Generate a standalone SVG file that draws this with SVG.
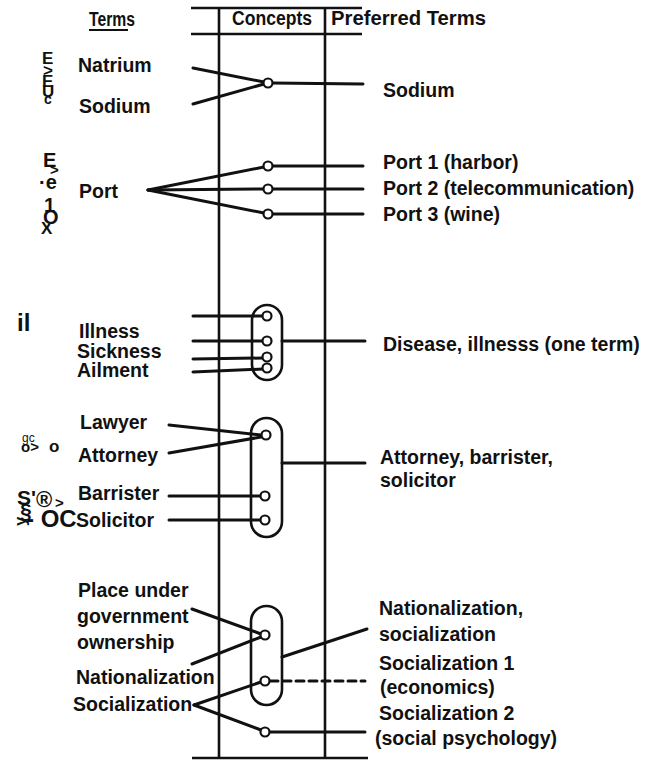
<svg xmlns="http://www.w3.org/2000/svg" width="646" height="761" viewBox="0 0 646 761">
<style>
text{font-family:"Liberation Sans",Arial,sans-serif;font-weight:bold;font-size:19.5px;fill:#111}
.hd{font-size:20px}
.ln{stroke:#111;stroke-width:3;fill:none;stroke-linecap:round}
.col{stroke:#111;stroke-width:2.6;fill:none}
.c{fill:#fff;stroke:#111;stroke-width:2.2}
.pill{fill:none;stroke:#111;stroke-width:2.6}
text.g1{font-size:17px}
text.g2{font-size:20px}
text.s12{font-size:12px;font-weight:normal}
text.s14{font-size:14px}
text.s15{font-size:15px}
text.s17{font-size:17px}
text.s20{font-size:21px}
text.s22{font-size:22px}
text.s24{font-size:24px}
</style>
<rect width="646" height="761" fill="#fff"/>
<g id="frame">
<line class="col" x1="191" y1="8" x2="362" y2="8"/>
<line class="col" x1="191" y1="34" x2="362" y2="34" stroke-width="2"/>
<line class="col" x1="219" y1="8" x2="219" y2="758"/>
<line class="col" x1="325" y1="8" x2="325" y2="758"/>
<line class="col" x1="192" y1="758" x2="368" y2="758"/>
</g>
<g id="headers">
<text class="hd" x="89" y="26" textLength="46" lengthAdjust="spacingAndGlyphs">Terms</text>
<line x1="89" y1="30" x2="128" y2="30" stroke="#111" stroke-width="2"/>
<text class="hd" x="232" y="25" textLength="80" lengthAdjust="spacingAndGlyphs">Concepts</text>
<text class="hd" x="331" y="25" textLength="155" lengthAdjust="spacingAndGlyphs">Preferred Terms</text>
</g>
<g id="garbled">
<text class="g1" x="42" y="64">E</text>
<text class="g1" x="43" y="76">&gt;</text>
<text class="g1" x="42" y="87">E</text>
<text class="g1" x="42" y="97">U</text>
<text class="s14" x="44" y="104">c</text>
<text class="g2" x="43" y="167">E</text>
<text class="s15" x="50" y="175">&gt;</text>
<text class="g2" x="39" y="189">·e</text>
<text class="g2" x="44" y="212">1</text>
<text class="g2" x="43" y="224">O</text>
<text class="s17" x="41" y="234">X</text>
<text class="s24" x="17" y="331">il</text>
<text class="s12" x="22" y="442">gc</text>
<text class="s15" x="21" y="452">o&gt;</text>
<text class="s17" x="49" y="452">o</text>
<text class="s20" x="17" y="505">S'</text>
<text class="s22" x="36" y="507">®</text>
<text class="s20" x="20" y="518">§</text>
<text class="s15" x="55" y="508">&gt;</text>
<text class="s17" x="0" y="0" transform="translate(26,526) rotate(-90)">y</text>
<text class="s24" x="26" y="527">- OC</text>
</g>
<g id="connectors">
<line class="ln" x1="193" y1="68" x2="264" y2="82"/>
<line class="ln" x1="193" y1="104" x2="264" y2="84"/>
<line class="ln" x1="272" y1="83" x2="363" y2="84"/>
<line class="ln" x1="148" y1="190" x2="264" y2="167"/>
<line class="ln" x1="148" y1="190" x2="264" y2="189"/>
<line class="ln" x1="148" y1="190" x2="264" y2="213"/>
<line class="ln" x1="272" y1="166" x2="363" y2="166"/>
<line class="ln" x1="272" y1="189" x2="363" y2="189"/>
<line class="ln" x1="272" y1="214" x2="363" y2="214"/>
<line class="ln" x1="193" y1="316" x2="263" y2="316"/>
<line class="ln" x1="193" y1="341" x2="263" y2="341"/>
<line class="ln" x1="193" y1="359" x2="263" y2="358"/>
<line class="ln" x1="193" y1="372" x2="263" y2="369"/>
<line class="ln" x1="282" y1="341" x2="365" y2="341"/>
<line class="ln" x1="169" y1="425" x2="261" y2="435"/>
<line class="ln" x1="169" y1="453" x2="261" y2="437"/>
<line class="ln" x1="169" y1="496" x2="261" y2="496"/>
<line class="ln" x1="169" y1="520" x2="261" y2="520"/>
<line class="ln" x1="282" y1="463" x2="365" y2="463"/>
<line class="ln" x1="192" y1="609" x2="261" y2="634"/>
<line class="ln" x1="192" y1="664" x2="261" y2="637"/>
<line class="ln" x1="194" y1="705" x2="261" y2="682"/>
<line class="ln" x1="194" y1="705" x2="261" y2="730"/>
<line class="ln" x1="270" y1="681" x2="365" y2="681" stroke-dasharray="8 5" stroke-linecap="butt"/>
<line class="ln" x1="270" y1="732" x2="365" y2="732"/>
<line class="ln" x1="282" y1="657" x2="367" y2="629"/>
</g>
<g id="concept-sodium">
<circle class="c" cx="268" cy="83" r="4.5"/>
</g>
<g id="concept-port">
<circle class="c" cx="268" cy="166" r="4.5"/>
<circle class="c" cx="268" cy="189" r="4.5"/>
<circle class="c" cx="268" cy="214" r="4.5"/>
</g>
<g id="concept-disease">
<rect class="pill" x="252" y="305" width="30" height="75" rx="15"/>
<circle class="c" cx="267" cy="316" r="4.5"/>
<circle class="c" cx="267" cy="341" r="4.5"/>
<circle class="c" cx="267" cy="357" r="4.5"/>
<circle class="c" cx="267" cy="368" r="4.5"/>
</g>
<g id="concept-attorney">
<rect class="pill" x="251" y="418" width="31" height="119" rx="15.5"/>
<circle class="c" cx="266" cy="435" r="4.5"/>
<circle class="c" cx="265" cy="496" r="4.5"/>
<circle class="c" cx="265" cy="520" r="4.5"/>
</g>
<g id="concept-nationalization">
<rect class="pill" x="251" y="606" width="31" height="99" rx="15.5"/>
<circle class="c" cx="265" cy="635" r="4.5"/>
<circle class="c" cx="265" cy="681" r="4.5"/>
<circle class="c" cx="265" cy="732" r="4.5"/>
</g>
<g id="terms">
<text x="78" y="72">Natrium</text>
<text x="79" y="113">Sodium</text>
<text x="79" y="198">Port</text>
<text x="79" y="338">Illness</text>
<text x="77" y="358">Sickness</text>
<text x="77" y="377">Ailment</text>
<text x="80" y="429">Lawyer</text>
<text x="78" y="462">Attorney</text>
<text x="78" y="500">Barrister</text>
<text x="76" y="527">Solicitor</text>
<text x="78" y="597">Place under</text>
<text x="77" y="623">government</text>
<text x="77" y="649">ownership</text>
<text x="76" y="684">Nationalization</text>
<text x="73" y="711">Socialization</text>
</g>
<g id="preferred">
<text x="383" y="97">Sodium</text>
<text x="383" y="169">Port 1 (harbor)</text>
<text x="383" y="195">Port 2 (telecommunication)</text>
<text x="383" y="221">Port 3 (wine)</text>
<text x="383" y="351">Disease, illnesss (one term)</text>
<text x="380" y="464">Attorney, barrister,</text>
<text x="380" y="487">solicitor</text>
<text x="379" y="615">Nationalization,</text>
<text x="379" y="641">socialization</text>
<text x="379" y="670">Socialization 1</text>
<text x="380" y="694">(economics)</text>
<text x="379" y="720">Socialization 2</text>
<text x="375" y="745">(social psychology)</text>
</g>
</svg>
